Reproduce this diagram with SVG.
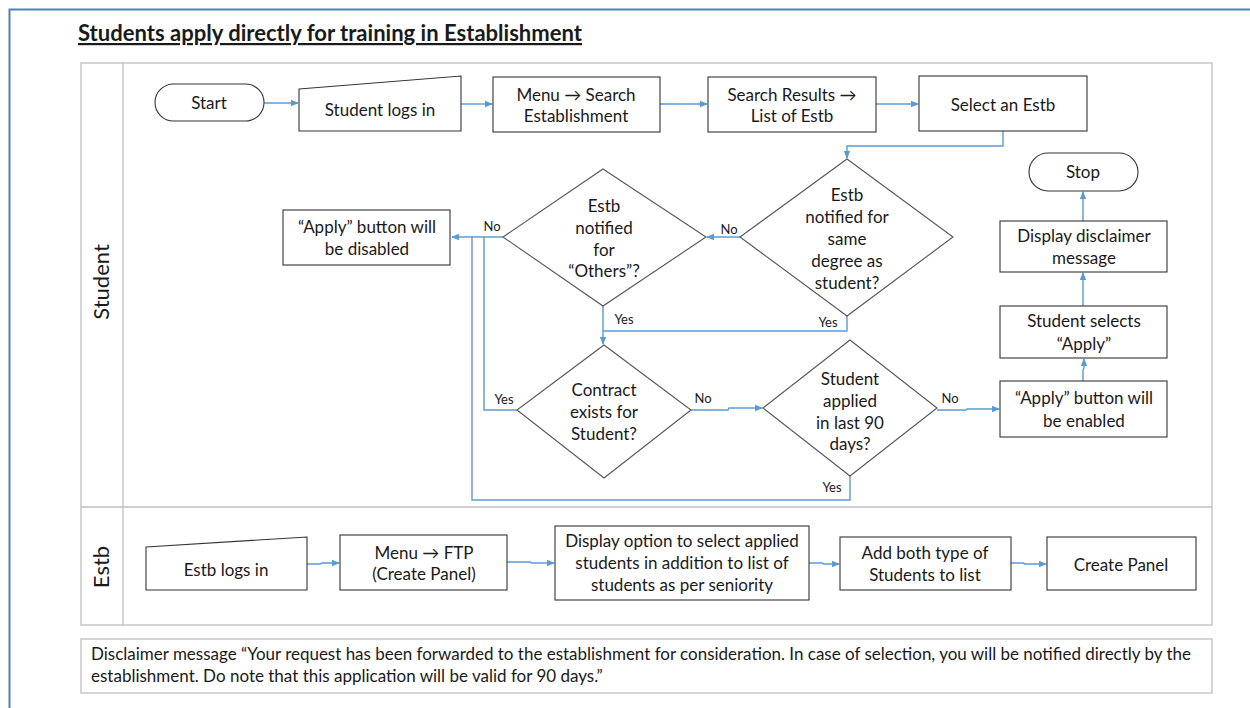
<svg xmlns="http://www.w3.org/2000/svg" width="1250" height="708" viewBox="0 0 1250 708">
  <style>
    text { font-family: Lato, "Open Sans", "Liberation Sans", sans-serif; fill: #1a1a1a; }
    .t { font-size: 17px; text-anchor: middle; dominant-baseline: central; }
    .lbl { font-size: 13px; text-anchor: middle; dominant-baseline: central; }
    .lane { font-size: 22px; text-anchor: middle; dominant-baseline: central; }
    .note { font-size: 17px; dominant-baseline: central; }
    .box { fill: #ffffff; stroke: #333333; stroke-width: 1.1; }
    .dia { fill: #ffffff; stroke: #555555; stroke-width: 1.1; }
    .frame { fill: none; stroke: #bfbfbf; stroke-width: 1.3; }
    .conn { fill: none; stroke: #5b9bd5; stroke-width: 1.4; }
  </style>
  <defs>
    <marker id="arr" markerWidth="8" markerHeight="8" refX="7" refY="4" orient="auto" markerUnits="userSpaceOnUse">
      <path d="M0,0.8 L8,4 L0,7.2 Z" fill="#5b9bd5"/>
    </marker>
  </defs>

  <rect width="1250" height="708" fill="#ffffff"/>
  <!-- page frame -->
  <path d="M9.5,708 V9.5 H1250" fill="none" stroke="#4f81bd" stroke-width="2"/>

  <!-- title -->
  <text x="78" y="41" textLength="504" lengthAdjust="spacingAndGlyphs" style="font-size:22px;font-weight:bold;text-decoration:underline;">Students apply directly for training in Establishment</text>

  <!-- swimlanes -->
  <g id="lanes">
    <rect class="frame" x="81" y="63" width="1131" height="562"/>
    <line class="frame" x1="123" y1="63" x2="123" y2="625"/>
    <line class="frame" x1="81" y1="507" x2="1212" y2="507"/>
    <text class="lane" transform="translate(100,282) rotate(-90)">Student</text>
    <text class="lane" transform="translate(100,567) rotate(-90)">Estb</text>
  </g>

  <!-- connectors -->
  <g id="connectors">
    <line class="conn" x1="264" y1="103" x2="298" y2="103" marker-end="url(#arr)"/>
    <line class="conn" x1="461" y1="104" x2="492" y2="104" marker-end="url(#arr)"/>
    <line class="conn" x1="660" y1="104" x2="707" y2="104" marker-end="url(#arr)"/>
    <line class="conn" x1="876" y1="104" x2="918" y2="104" marker-end="url(#arr)"/>
    <polyline class="conn" points="1003,131 1003,146 847,146 847,158" marker-end="url(#arr)"/>
    <line class="conn" x1="740" y1="237" x2="707" y2="237" marker-end="url(#arr)"/>
    <line class="conn" x1="503" y1="237" x2="452" y2="237" marker-end="url(#arr)"/>
    <line class="conn" x1="603" y1="306" x2="603" y2="344" marker-end="url(#arr)"/>
    <polyline class="conn" points="847,316 847,331 603,331"/>
    <polyline class="conn" points="517,410 484,410 484,237"/>
    <polyline class="conn" points="691,410 728,410 729,408 762,408" marker-end="url(#arr)"/>
    <polyline class="conn" points="850,476 850,500 472,500 472,237"/>
    <polyline class="conn" points="937,410 966,410 967,409 999,409" marker-end="url(#arr)"/>
    <polyline class="conn" points="1083,381 1083,370 1084,368 1084,359" marker-end="url(#arr)"/>
    <line class="conn" x1="1083" y1="306" x2="1083" y2="273" marker-end="url(#arr)"/>
    <line class="conn" x1="1083" y1="221" x2="1083" y2="192" marker-end="url(#arr)"/>
    <polyline class="conn" points="307,564 320,564 322,563 339,563" marker-end="url(#arr)"/>
    <polyline class="conn" points="507,562 530,562 532,563 554,563" marker-end="url(#arr)"/>
    <polyline class="conn" points="809,563 822,563 824,564 839,564" marker-end="url(#arr)"/>
    <polyline class="conn" points="1011,563 1023,563 1025,564 1046,564" marker-end="url(#arr)"/>
    <!-- branch labels -->
    <text class="lbl" x="729" y="229">No</text>
    <text class="lbl" x="492" y="226">No</text>
    <text class="lbl" x="624" y="319">Yes</text>
    <text class="lbl" x="828" y="322">Yes</text>
    <text class="lbl" x="504" y="399">Yes</text>
    <text class="lbl" x="703" y="398">No</text>
    <text class="lbl" x="950" y="398">No</text>
    <text class="lbl" x="832" y="487">Yes</text>
  </g>

  <!-- Student lane -->
  <g id="start">
    <rect class="box" x="155" y="84" width="109" height="37" rx="18.5"/>
    <text class="t" x="209" y="102">Start</text>
  </g>
  <g id="student-login">
    <path class="box" d="M299,89 L461,76 L461,131 L299,131 Z"/>
    <text class="t" x="380" y="109">Student logs in</text>
  </g>
  <g id="menu-search">
    <rect class="box" x="493" y="77" width="167" height="55"/>
    <text class="t" x="576" y="94">Menu → Search</text>
    <text class="t" x="576" y="115">Establishment</text>
  </g>
  <g id="search-results">
    <rect class="box" x="708" y="77" width="168" height="55"/>
    <text class="t" x="792" y="94">Search Results →</text>
    <text class="t" x="792" y="115">List of Estb</text>
  </g>
  <g id="select-estb">
    <rect class="box" x="919" y="76" width="168" height="55"/>
    <text class="t" x="1003" y="104">Select an Estb</text>
  </g>
  <g id="same-degree">
    <path class="dia" d="M847,159 L953,237 L847,316 L740,237 Z"/>
    <text class="t" x="847" y="194">Estb</text>
    <text class="t" x="847" y="216">notified for</text>
    <text class="t" x="847" y="238">same</text>
    <text class="t" x="847" y="260">degree as</text>
    <text class="t" x="847" y="282">student?</text>
  </g>
  <g id="others">
    <path class="dia" d="M603,169 L706,237 L603,306 L503,237 Z"/>
    <text class="t" x="604" y="205">Estb</text>
    <text class="t" x="604" y="227">notified</text>
    <text class="t" x="604" y="249">for</text>
    <text class="t" x="604" y="270">“Others”?</text>
  </g>
  <g id="apply-disabled">
    <rect class="box" x="283" y="210" width="167" height="55"/>
    <text class="t" x="367" y="226">“Apply” button will</text>
    <text class="t" x="367" y="248">be disabled</text>
  </g>
  <g id="contract">
    <path class="dia" d="M604,345 L691,410 L604,478 L517,410 Z"/>
    <text class="t" x="604" y="389">Contract</text>
    <text class="t" x="604" y="411">exists for</text>
    <text class="t" x="604" y="433">Student?</text>
  </g>
  <g id="applied-90">
    <path class="dia" d="M850,340 L937,408 L850,476 L763,408 Z"/>
    <text class="t" x="850" y="378">Student</text>
    <text class="t" x="850" y="400">applied</text>
    <text class="t" x="850" y="422">in last 90</text>
    <text class="t" x="850" y="443">days?</text>
  </g>
  <g id="apply-enabled">
    <rect class="box" x="1000" y="381" width="167" height="56"/>
    <text class="t" x="1084" y="397">“Apply” button will</text>
    <text class="t" x="1084" y="420">be enabled</text>
  </g>
  <g id="selects-apply">
    <rect class="box" x="1000" y="306" width="167" height="52"/>
    <text class="t" x="1084" y="320">Student selects</text>
    <text class="t" x="1084" y="343">“Apply”</text>
  </g>
  <g id="display-disclaimer">
    <rect class="box" x="1000" y="221" width="167" height="51"/>
    <text class="t" x="1084" y="235">Display disclaimer</text>
    <text class="t" x="1084" y="257">message</text>
  </g>
  <g id="stop">
    <rect class="box" x="1029" y="153" width="109" height="38" rx="19"/>
    <text class="t" x="1083" y="171">Stop</text>
  </g>

  <!-- Estb lane -->
  <g id="estb-login">
    <path class="box" d="M146,547 L307,537 L307,590 L146,590 Z"/>
    <text class="t" x="226" y="569">Estb logs in</text>
  </g>
  <g id="menu-ftp">
    <rect class="box" x="340" y="535" width="167" height="55"/>
    <text class="t" x="424" y="552">Menu → FTP</text>
    <text class="t" x="424" y="573">(Create Panel)</text>
  </g>
  <g id="display-option">
    <rect class="box" x="555" y="526" width="254" height="74"/>
    <text class="t" x="682" y="540">Display option to select applied</text>
    <text class="t" x="682" y="562">students in addition to list of</text>
    <text class="t" x="682" y="584">students as per seniority</text>
  </g>
  <g id="add-both">
    <rect class="box" x="840" y="537" width="171" height="53"/>
    <text class="t" x="925" y="552">Add both type of</text>
    <text class="t" x="925" y="574">Students to list</text>
  </g>
  <g id="create-panel">
    <rect class="box" x="1047" y="537" width="149" height="53"/>
    <text class="t" x="1121" y="564">Create Panel</text>
  </g>

  <!-- disclaimer note -->
  <g id="disclaimer">
    <rect class="frame" x="81" y="639" width="1131" height="54"/>
    <text class="note" x="91" y="653" textLength="1100" lengthAdjust="spacingAndGlyphs">Disclaimer message “Your request has been forwarded to the establishment for consideration. In case of selection, you will be notified directly by the</text>
    <text class="note" x="91" y="675">establishment. Do note that this application will be valid for 90 days.”</text>
  </g>
</svg>
